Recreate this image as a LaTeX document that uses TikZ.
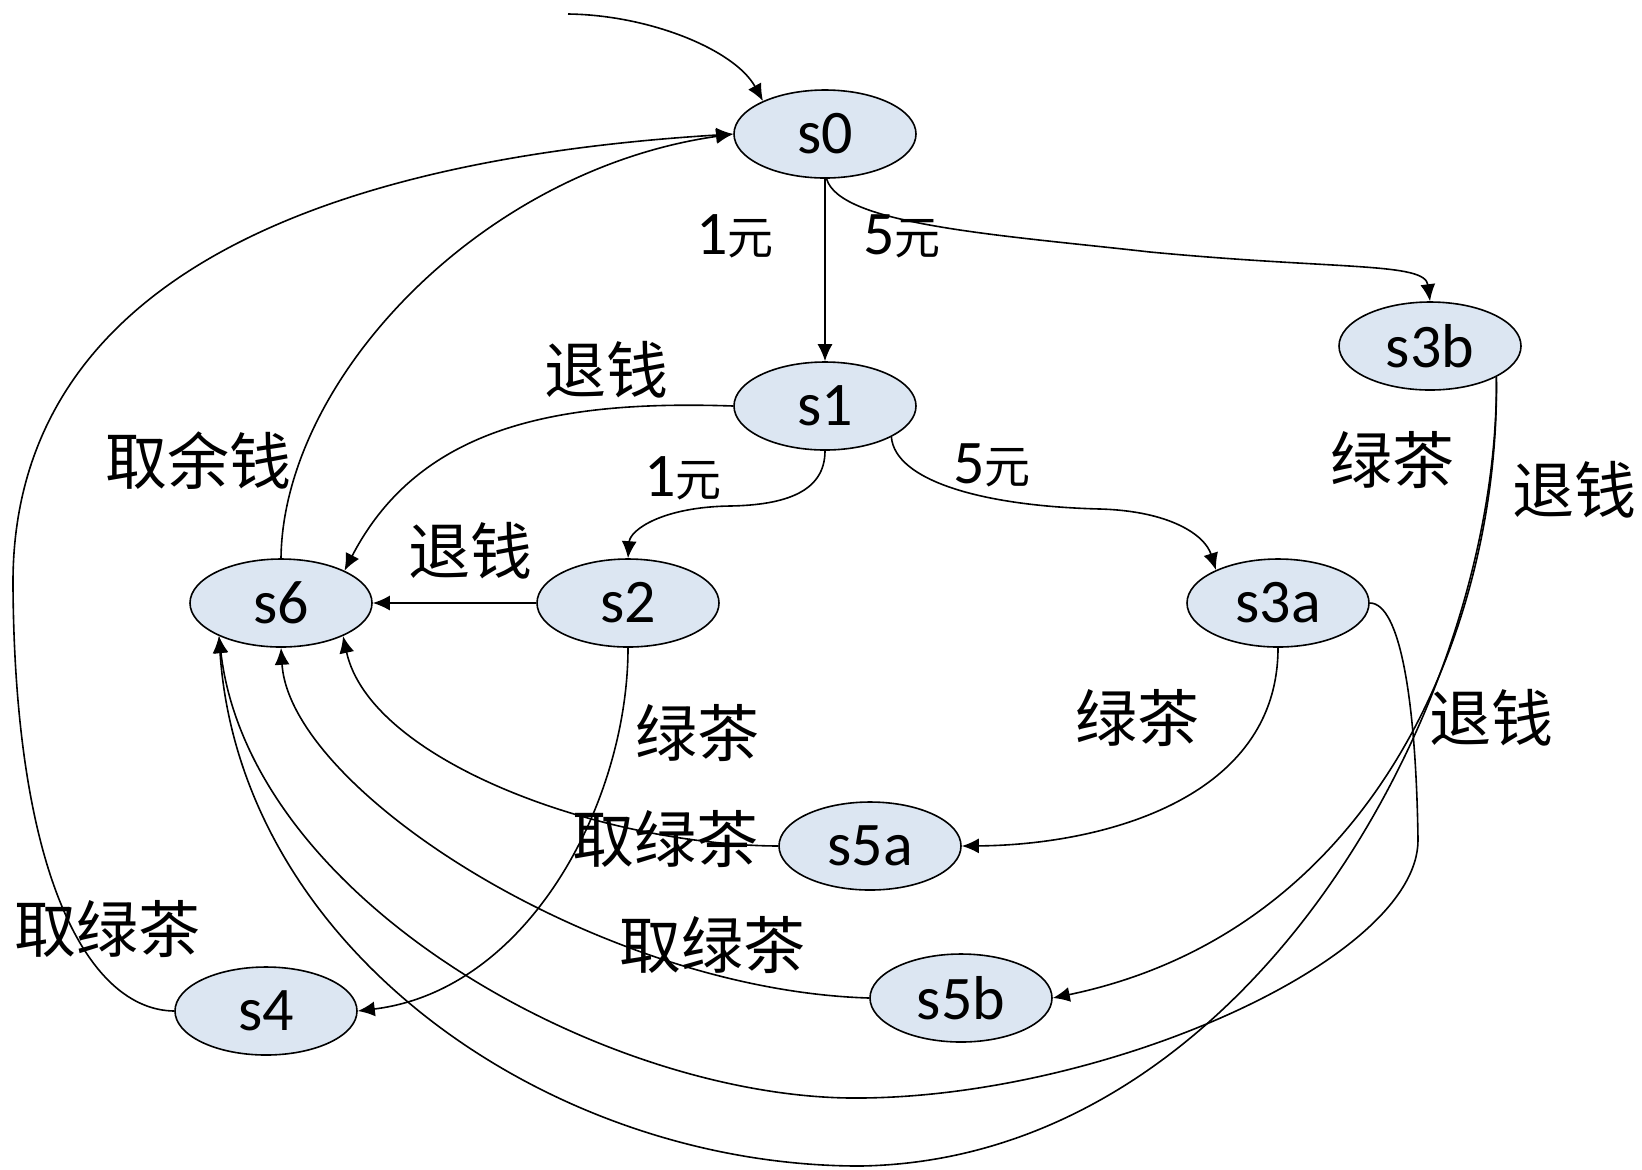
\documentclass[tikz,border=0pt]{standalone}
\usepackage{fontspec}
\setmainfont{Carlito}
\newfontfamily\cjk{Noto Sans CJK SC}
\usetikzlibrary{shapes.geometric,arrows.meta}
\definecolor{nodefill}{RGB}{220,230,242}
\newcommand{\yuan}{{\cjk\fontsize{23}{23}\selectfont 元}}
\begin{document}
\begin{tikzpicture}[x=0.5pt,y=-0.5pt,
  state/.style={ellipse, draw, line width=0.8pt, fill=nodefill, minimum width=91pt, minimum height=44pt, inner sep=0pt, font=\fontsize{31}{31}\selectfont},
  lbl/.style={inner sep=0pt, font=\cjk\fontsize{31}{31}\selectfont},
  money/.style={inner sep=0pt, font=\fontsize{31}{31}\selectfont},
  tr/.style={line width=0.8pt, -{Latex[length=8.5pt,width=7.5pt]}}]
\useasboundingbox (0,0) rectangle (1642,1169);

% states
\node[state] (s0) at (825,134) {s0};
\node[state] (s1) at (825,406) {s1};
\node[state] (s3b) at (1430,346) {s3b};
\node[state] (s6) at (281,603) {s6};
\node[state] (s2) at (628,603) {s2};
\node[state] (s3a) at (1278,603) {s3a};
\node[state] (s5a) at (870,846) {s5a};
\node[state] (s5b) at (961,998) {s5b};
\node[state] (s4) at (266,1011) {s4};

% transitions
\coordinate (init) at (568,14);
\draw[tr] (init) .. controls (650,15) and (735,50) .. (s0.152);
\draw[tr] (s0.south) -- (s1.north);
\draw[tr] (s0.-88) .. controls (840,225) and (1000,235) .. (1150,252) .. controls (1340,270) and (1425,262) .. (s3b.north);
\draw[tr] (s1.west) .. controls (560,400) and (420,425) .. (s6.27);
\draw[tr] (s1.south) .. controls (825,492) and (785,505) .. (730,506) .. controls (662,507) and (630,530) .. (s2.north);
\draw[tr] (s1.-25) .. controls (895,480) and (980,506) .. (1100,509) .. controls (1170,511) and (1205,535) .. (s3a.152);
\draw[tr] (s2.west) -- (s6.east);
\draw[tr] (s2.south) .. controls (628,800) and (530,990) .. (s4.east);
\draw[tr] (s6.north) .. controls (283,380) and (480,170) .. (s0.west);
\draw[tr] (s4.west) .. controls (90,1010) and (15,880) .. (13,586) .. controls (11,330) and (230,165) .. (s0.west);
\draw[tr] (s3a.south) .. controls (1278,800) and (1100,845) .. (s5a.east);
\draw[tr] (s5a.west) .. controls (600,845) and (370,760) .. (s6.-28);
\draw[tr] (s5b.west) .. controls (600,990) and (290,790) .. (s6.south);
\draw[tr] (s3b.-25) .. controls (1500,620) and (1380,930) .. (s5b.east);
\draw[tr] (s3b.-25) .. controls (1500,700) and (1250,1160) .. (860,1166) .. controls (550,1166) and (240,950) .. (s6.-152);
\draw[tr] (s3a.east) .. controls (1400,603) and (1416,700) .. (1418,840) .. controls (1418,960) and (1100,1100) .. (850,1098) .. controls (600,1095) and (250,900) .. (s6.-152);

% labels
\node[money] (m01) at (735,236) {1\yuan};
\node[money] (m03) at (902,236) {5\yuan};
\node[money] (m12) at (683,478) {1\yuan};
\node[money] (m13) at (992,465) {5\yuan};
\node[lbl] (t16) at (606,370) {退钱};
\node[lbl] (t60) at (198,461) {取余钱};
\node[lbl] (t26) at (470,551) {退钱};
\node[lbl] (g3b) at (1392,460) {绿茶};
\node[lbl] (t3b) at (1574,490) {退钱};
\node[lbl] (t3a) at (1491,718) {退钱};
\node[lbl] (g3a) at (1137,718) {绿茶};
\node[lbl] (g2) at (697,733) {绿茶};
\node[lbl] (q5a) at (665,839) {取绿茶};
\node[lbl] (q5b) at (712,945) {取绿茶};
\node[lbl] (q4) at (107,929) {取绿茶};
\end{tikzpicture}
\end{document}
